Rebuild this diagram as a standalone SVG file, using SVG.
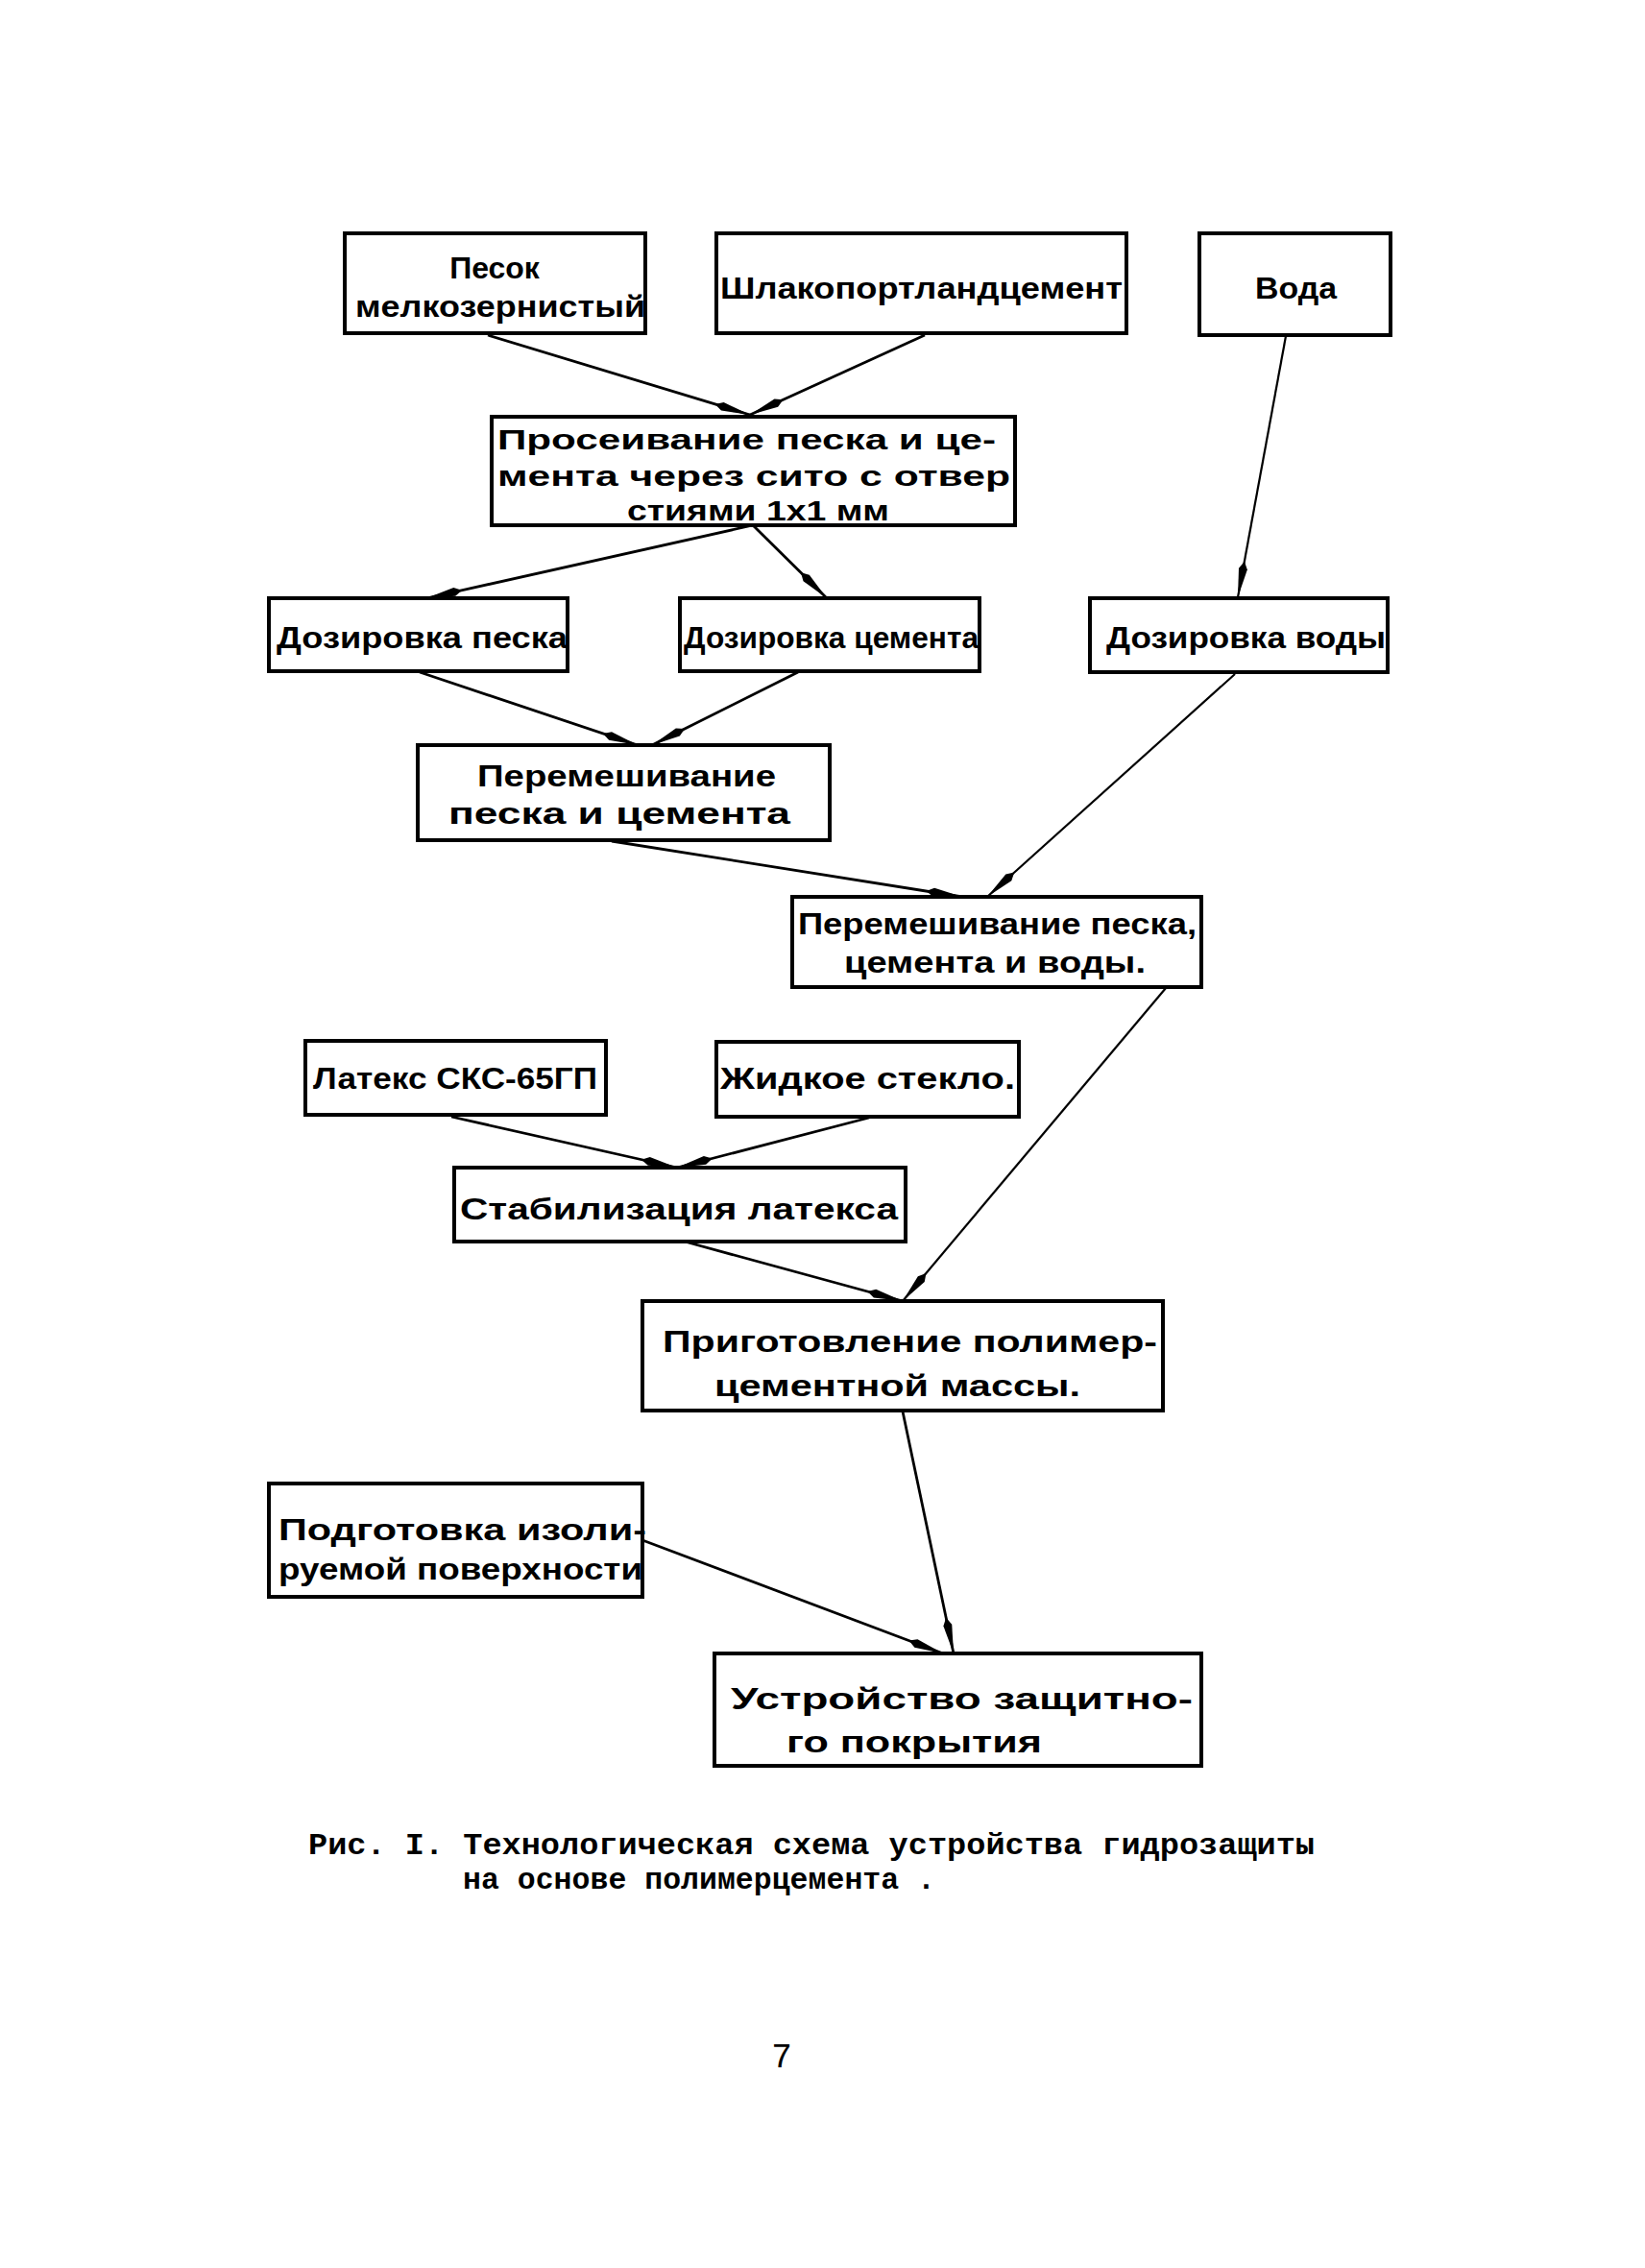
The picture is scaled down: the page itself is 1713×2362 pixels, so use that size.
<svg xmlns="http://www.w3.org/2000/svg" width="1713" height="2362" viewBox="0 0 1713 2362">
<style>
.box{fill:#fff;stroke:#000;stroke-width:4}
.t{font-family:"Liberation Sans",Arial,sans-serif;font-weight:bold;font-size:32px;fill:#000}
.s{font-size:29px}
.c{fill:none;stroke:#000;stroke-width:2.8}
.thin{stroke-width:2.2}
.cap{font-family:"Liberation Mono","Courier New",monospace;font-weight:bold;font-size:32px;fill:#000}
.pg{font-family:"Liberation Mono","Courier New",monospace;font-size:36px;fill:#000}
</style>
<defs>
<marker id="ah" markerUnits="userSpaceOnUse" markerWidth="44" markerHeight="14" refX="38" refY="6" orient="auto">
<path d="M0,6 L8,1.5 L38,6 L8,10.5 Z" fill="#000"/>
</marker>
</defs>
<rect width="1713" height="2362" fill="#fff"/>
<g id="connectors">
<line class="c" x1="508" y1="349" x2="781" y2="432" marker-end="url(#ah)"/>
<line class="c" x1="963" y1="349" x2="781" y2="432" marker-end="url(#ah)"/>
<line class="c thin" x1="1339" y1="350" x2="1289" y2="622" marker-end="url(#ah)"/>
<line class="c" x1="784" y1="547" x2="444" y2="623" marker-end="url(#ah)"/>
<line class="c" x1="784" y1="547" x2="861" y2="623" marker-end="url(#ah)"/>
<line class="c" x1="437" y1="700" x2="664" y2="776" marker-end="url(#ah)"/>
<line class="c" x1="831" y1="700" x2="679" y2="776" marker-end="url(#ah)"/>
<line class="c" x1="637" y1="876" x2="1002" y2="934" marker-end="url(#ah)"/>
<line class="c thin" x1="1286" y1="702" x2="1028" y2="934" marker-end="url(#ah)"/>
<line class="c" x1="470" y1="1163" x2="705" y2="1216" marker-end="url(#ah)"/>
<line class="c" x1="905" y1="1164" x2="705" y2="1216" marker-end="url(#ah)"/>
<line class="c" x1="713" y1="1293" x2="940" y2="1355" marker-end="url(#ah)"/>
<line class="c thin" x1="1214" y1="1029" x2="940" y2="1355" marker-end="url(#ah)"/>
<line class="c" x1="940" y1="1470" x2="993" y2="1722" marker-end="url(#ah)"/>
<line class="c" x1="669" y1="1604" x2="982" y2="1722" marker-end="url(#ah)"/>
</g>
<g id="n1"><rect class="box" x="359" y="243" width="313" height="104"/>
<text class="t" x="515" y="290" text-anchor="middle">Песок</text>
<text class="t" x="370" y="330" textLength="302" lengthAdjust="spacingAndGlyphs">мелкозернистый</text></g>
<g id="n2"><rect class="box" x="746" y="243" width="427" height="104"/>
<text class="t" x="750" y="311" textLength="419" lengthAdjust="spacingAndGlyphs">Шлакопортландцемент</text></g>
<g id="n3"><rect class="box" x="1249" y="243" width="199" height="106"/>
<text class="t" x="1307" y="311" textLength="85" lengthAdjust="spacingAndGlyphs">Вода</text></g>
<g id="n4"><rect class="box" x="512" y="434" width="545" height="113"/>
<text class="t s" x="518" y="468" textLength="519" lengthAdjust="spacingAndGlyphs">Просеивание  песка и це-</text>
<text class="t s" x="518" y="506" textLength="534" lengthAdjust="spacingAndGlyphs">мента через сито с отвер</text>
<text class="t s" x="653" y="542" textLength="273" lengthAdjust="spacingAndGlyphs">стиями 1х1 мм</text></g>
<g id="n5"><rect class="box" x="280" y="623" width="311" height="76"/>
<text class="t" x="288" y="675" textLength="303" lengthAdjust="spacingAndGlyphs">Дозировка песка</text></g>
<g id="n6"><rect class="box" x="708" y="623" width="312" height="76"/>
<text class="t" x="712" y="675" textLength="307" lengthAdjust="spacingAndGlyphs">Дозировка цемента</text></g>
<g id="n7"><rect class="box" x="1135" y="623" width="310" height="77"/>
<text class="t" x="1152" y="675" textLength="291" lengthAdjust="spacingAndGlyphs">Дозировка воды</text></g>
<g id="n8"><rect class="box" x="435" y="776" width="429" height="99"/>
<text class="t" x="497" y="819" textLength="311" lengthAdjust="spacingAndGlyphs">Перемешивание</text>
<text class="t" x="467" y="858" textLength="356" lengthAdjust="spacingAndGlyphs">песка и цемента</text></g>
<g id="n9"><rect class="box" x="825" y="934" width="426" height="94"/>
<text class="t" x="831" y="973" textLength="415" lengthAdjust="spacingAndGlyphs">Перемешивание песка,</text>
<text class="t" x="879" y="1013" textLength="314" lengthAdjust="spacingAndGlyphs">цемента и воды.</text></g>
<g id="n10"><rect class="box" x="318" y="1084" width="313" height="77"/>
<text class="t" x="326" y="1134" textLength="296" lengthAdjust="spacingAndGlyphs">Латекс СКС-65ГП</text></g>
<g id="n11"><rect class="box" x="746" y="1085" width="315" height="78"/>
<text class="t" x="750" y="1134" textLength="307" lengthAdjust="spacingAndGlyphs">Жидкое стекло.</text></g>
<g id="n12"><rect class="box" x="473" y="1216" width="470" height="77"/>
<text class="t" x="479" y="1270" textLength="456" lengthAdjust="spacingAndGlyphs">Стабилизация латекса</text></g>
<g id="n13"><rect class="box" x="669" y="1355" width="542" height="114"/>
<text class="t" x="690" y="1408" textLength="515" lengthAdjust="spacingAndGlyphs">Приготовление полимер-</text>
<text class="t" x="744" y="1454" textLength="381" lengthAdjust="spacingAndGlyphs">цементной массы.</text></g>
<g id="n14"><rect class="box" x="280" y="1545" width="389" height="118"/>
<text class="t" x="290" y="1604" textLength="383" lengthAdjust="spacingAndGlyphs">Подготовка изоли-</text>
<text class="t" x="290" y="1645" textLength="379" lengthAdjust="spacingAndGlyphs">руемой поверхности</text></g>
<g id="n15"><rect class="box" x="744" y="1722" width="507" height="117"/>
<text class="t" x="761" y="1780" textLength="481" lengthAdjust="spacingAndGlyphs">Устройство защитно-</text>
<text class="t" x="819" y="1825" textLength="266" lengthAdjust="spacingAndGlyphs">го покрытия</text></g>
<g id="caption">
<text class="cap" x="321" y="1931" textLength="1048" lengthAdjust="spacingAndGlyphs">Рис. I. Технологическая схема устройства гидрозащиты</text>
<text class="cap" x="482" y="1967" textLength="492" lengthAdjust="spacingAndGlyphs">на основе полимерцемента .</text>
<text class="pg" x="814" y="2153" text-anchor="middle">7</text>
</g>
</svg>
